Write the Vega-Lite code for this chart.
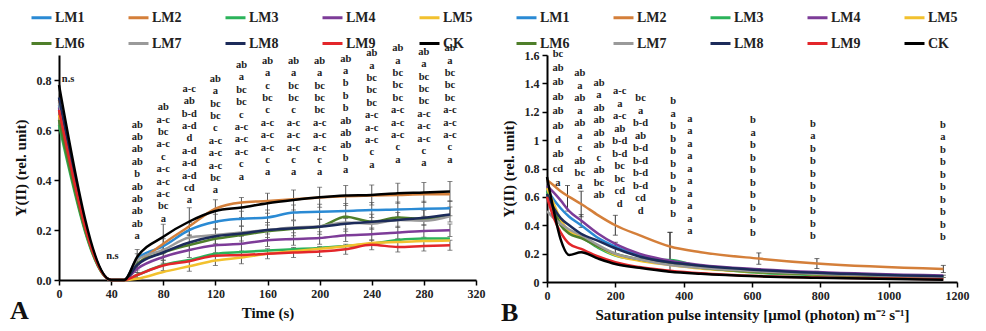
{
  "$schema": "https://vega.github.io/schema/vega-lite/v6.json",
  "padding": {"left": 10, "top": 6, "right": 5, "bottom": 0},
  "background": "white",
  "config": {
    "view": {"stroke": null},
    "font": "Liberation Serif",
    "axis": {"grid": false, "domainColor": "#000", "domainWidth": 2, "tickColor": "#000", "tickWidth": 1.5, "tickSize": 5, "labelFont": "Liberation Serif", "labelFontWeight": "bold", "labelFontSize": 12, "labelColor": "#222", "titleFont": "Liberation Serif", "titleFontWeight": "bold", "titleFontSize": 15, "titleColor": "#111", "labelPadding": 3, "labelOverlap": false, "labelFlush": false},
    "text": {"font": "Liberation Serif", "fontWeight": "bold", "fontSize": 10.5, "color": "#222"},
    "title": {"font": "Liberation Serif", "fontWeight": "bold", "fontSize": 26, "color": "#111"}
  },
  "datasets": {
    "Aw": [
      {"t":0,"LM1":0.70,"LM2":0.72,"LM3":0.62,"LM4":0.69,"LM5":0.66,"LM6":0.64,"LM7":0.71,"LM8":0.73,"LM9":0.68,"CK":0.78},
      {"t":40,"LM1":0,"LM2":0,"LM3":0,"LM4":0,"LM5":0,"LM6":0,"LM7":0,"LM8":0,"LM9":0,"CK":0},
      {"t":50,"LM1":0,"LM2":0,"LM3":0,"LM4":0,"LM5":0,"LM6":0,"LM7":0,"LM8":0,"LM9":0,"CK":0},
      {"t":60,"LM1":0.085,"LM2":0.06,"LM3":0.02,"LM4":0.045,"LM5":0.005,"LM6":0.065,"LM7":0.08,"LM8":0.06,"LM9":0.02,"CK":0.092},
      {"t":80,"LM1":0.135,"LM2":0.145,"LM3":0.06,"LM4":0.092,"LM5":0.032,"LM6":0.11,"LM7":0.12,"LM8":0.11,"LM9":0.058,"CK":0.173},
      {"t":100,"LM1":0.2,"LM2":0.215,"LM3":0.08,"LM4":0.12,"LM5":0.055,"LM6":0.14,"LM7":0.17,"LM8":0.15,"LM9":0.075,"CK":0.234},
      {"t":120,"LM1":0.233,"LM2":0.285,"LM3":0.105,"LM4":0.139,"LM5":0.078,"LM6":0.165,"LM7":0.18,"LM8":0.175,"LM9":0.097,"CK":0.276},
      {"t":140,"LM1":0.245,"LM2":0.31,"LM3":0.112,"LM4":0.145,"LM5":0.09,"LM6":0.18,"LM7":0.19,"LM8":0.186,"LM9":0.1,"CK":0.29},
      {"t":160,"LM1":0.25,"LM2":0.316,"LM3":0.118,"LM4":0.159,"LM5":0.105,"LM6":0.195,"LM7":0.2,"LM8":0.2,"LM9":0.105,"CK":0.307},
      {"t":180,"LM1":0.27,"LM2":0.323,"LM3":0.123,"LM4":0.164,"LM5":0.115,"LM6":0.205,"LM7":0.21,"LM8":0.207,"LM9":0.11,"CK":0.32},
      {"t":200,"LM1":0.273,"LM2":0.33,"LM3":0.128,"LM4":0.168,"LM5":0.125,"LM6":0.213,"LM7":0.215,"LM8":0.213,"LM9":0.114,"CK":0.331},
      {"t":220,"LM1":0.276,"LM2":0.335,"LM3":0.136,"LM4":0.179,"LM5":0.135,"LM6":0.253,"LM7":0.23,"LM8":0.225,"LM9":0.123,"CK":0.338},
      {"t":240,"LM1":0.28,"LM2":0.338,"LM3":0.145,"LM4":0.183,"LM5":0.148,"LM6":0.233,"LM7":0.225,"LM8":0.233,"LM9":0.141,"CK":0.34},
      {"t":260,"LM1":0.282,"LM2":0.34,"LM3":0.16,"LM4":0.19,"LM5":0.152,"LM6":0.25,"LM7":0.24,"LM8":0.24,"LM9":0.132,"CK":0.347},
      {"t":280,"LM1":0.285,"LM2":0.343,"LM3":0.166,"LM4":0.196,"LM5":0.156,"LM6":0.245,"LM7":0.237,"LM8":0.249,"LM9":0.136,"CK":0.35},
      {"t":300,"LM1":0.287,"LM2":0.343,"LM3":0.166,"LM4":0.199,"LM5":0.158,"LM6":0.26,"LM7":0.255,"LM8":0.262,"LM9":0.139,"CK":0.354}
    ],
    "Ae": [
      {"t":60,"y":0.092,"e":0.03},{"t":60,"y":0.085,"e":0.02},{"t":60,"y":0.06,"e":0.02},{"t":60,"y":0.045,"e":0.015},{"t":60,"y":0.02,"e":0.01},
      {"t":80,"y":0.173,"e":0.05},{"t":80,"y":0.135,"e":0.03},{"t":80,"y":0.11,"e":0.03},{"t":80,"y":0.092,"e":0.025},{"t":80,"y":0.058,"e":0.02},
      {"t":100,"y":0.234,"e":0.055},{"t":100,"y":0.2,"e":0.03},{"t":100,"y":0.15,"e":0.03},{"t":100,"y":0.12,"e":0.03},{"t":100,"y":0.055,"e":0.02},
      {"t":120,"y":0.276,"e":0.045},{"t":120,"y":0.233,"e":0.03},{"t":120,"y":0.175,"e":0.03},{"t":120,"y":0.139,"e":0.03},{"t":120,"y":0.078,"e":0.02},
      {"t":140,"y":0.29,"e":0.04},{"t":140,"y":0.245,"e":0.03},{"t":140,"y":0.186,"e":0.03},{"t":140,"y":0.145,"e":0.03},{"t":140,"y":0.09,"e":0.025},
      {"t":160,"y":0.307,"e":0.04},{"t":160,"y":0.25,"e":0.03},{"t":160,"y":0.2,"e":0.03},{"t":160,"y":0.159,"e":0.025},{"t":160,"y":0.105,"e":0.02},
      {"t":180,"y":0.32,"e":0.04},{"t":180,"y":0.27,"e":0.03},{"t":180,"y":0.207,"e":0.03},{"t":180,"y":0.164,"e":0.025},{"t":180,"y":0.11,"e":0.02},
      {"t":200,"y":0.331,"e":0.04},{"t":200,"y":0.273,"e":0.03},{"t":200,"y":0.213,"e":0.03},{"t":200,"y":0.168,"e":0.025},{"t":200,"y":0.114,"e":0.02},
      {"t":220,"y":0.338,"e":0.04},{"t":220,"y":0.276,"e":0.03},{"t":220,"y":0.225,"e":0.03},{"t":220,"y":0.179,"e":0.025},{"t":220,"y":0.123,"e":0.02},
      {"t":240,"y":0.34,"e":0.04},{"t":240,"y":0.28,"e":0.03},{"t":240,"y":0.233,"e":0.03},{"t":240,"y":0.183,"e":0.025},{"t":240,"y":0.141,"e":0.02},
      {"t":260,"y":0.347,"e":0.04},{"t":260,"y":0.282,"e":0.03},{"t":260,"y":0.24,"e":0.03},{"t":260,"y":0.19,"e":0.025},{"t":260,"y":0.132,"e":0.02},
      {"t":280,"y":0.35,"e":0.04},{"t":280,"y":0.285,"e":0.03},{"t":280,"y":0.249,"e":0.03},{"t":280,"y":0.196,"e":0.025},{"t":280,"y":0.136,"e":0.02},
      {"t":300,"y":0.354,"e":0.04},{"t":300,"y":0.287,"e":0.03},{"t":300,"y":0.262,"e":0.03},{"t":300,"y":0.199,"e":0.025},{"t":300,"y":0.139,"e":0.02}
    ],
    "At": [
      {"t":60,"y":0.642,"lab":"ab\nab\nab\nab\nb\nab\nab\nab\nab\na"},
      {"t":80,"y":0.711,"lab":"ab\na-c\nbc\na-c\nc\na-c\na-c\na-c\nbc\na"},
      {"t":100,"y":0.785,"lab":"a-c\nab\nb-d\na-d\nd\na-d\na-d\na-d\ncd\na"},
      {"t":120,"y":0.825,"lab":"ab\na\nbc\nbc\nc\na-c\na-c\na-c\nbc\na"},
      {"t":140,"y":0.88,"lab":"ab\na\nbc\nbc\nc\na-c\na-c\na-c\nc\na"},
      {"t":160,"y":0.897,"lab":"ab\na\nc\nbc\nc\na-c\na-c\na-c\nc\na"},
      {"t":180,"y":0.897,"lab":"ab\na\nbc\nbc\nc\na-c\na-c\na-c\nc\na"},
      {"t":200,"y":0.897,"lab":"ab\na\nbc\nbc\nbc\na-c\na-c\na-c\nc\na"},
      {"t":220,"y":0.906,"lab":"ab\na\nb\nb\nb\nab\nab\nab\nb\na"},
      {"t":240,"y":0.927,"lab":"ab\na\nbc\nbc\nbc\na-c\na-c\na-c\nc\na"},
      {"t":260,"y":0.947,"lab":"ab\na\nbc\nbc\nbc\na-c\na-c\na-c\nc\na"},
      {"t":280,"y":0.933,"lab":"ab\na\nbc\nbc\nbc\na-c\na-c\na-c\nc\na"},
      {"t":300,"y":0.947,"lab":"ab\na\nbc\nbc\nbc\na-c\na-c\na-c\nc\na"},
      {"t":7,"y":0.825,"lab":"n.s"},
      {"t":41,"y":0.118,"lab":"n.s"}
    ],
    "Bw": [
      {"x":0,"LM1":0.65,"LM2":0.72,"LM3":0.64,"LM4":0.68,"LM5":0.66,"LM6":0.62,"LM7":0.5,"LM8":0.62,"LM9":0.6,"CK":0.74},
      {"x":20,"LM1":0.58,"LM2":0.68,"LM3":0.52,"LM4":0.63,"LM5":0.55,"LM6":0.5,"LM7":0.45,"LM8":0.52,"LM9":0.45,"CK":0.5},
      {"x":40,"LM1":0.52,"LM2":0.64,"LM3":0.42,"LM4":0.575,"LM5":0.44,"LM6":0.4,"LM7":0.41,"LM8":0.45,"LM9":0.35,"CK":0.3},
      {"x":65,"LM1":0.46,"LM2":0.6,"LM3":0.35,"LM4":0.5,"LM5":0.36,"LM6":0.34,"LM7":0.37,"LM8":0.4,"LM9":0.27,"CK":0.19},
      {"x":100,"LM1":0.4,"LM2":0.55,"LM3":0.316,"LM4":0.433,"LM5":0.32,"LM6":0.31,"LM7":0.33,"LM8":0.34,"LM9":0.233,"CK":0.21},
      {"x":150,"LM1":0.31,"LM2":0.47,"LM3":0.24,"LM4":0.34,"LM5":0.25,"LM6":0.25,"LM7":0.26,"LM8":0.29,"LM9":0.18,"CK":0.165},
      {"x":200,"LM1":0.25,"LM2":0.4,"LM3":0.186,"LM4":0.268,"LM5":0.19,"LM6":0.2,"LM7":0.2,"LM8":0.238,"LM9":0.139,"CK":0.127},
      {"x":270,"LM1":0.19,"LM2":0.33,"LM3":0.16,"LM4":0.2,"LM5":0.15,"LM6":0.16,"LM7":0.16,"LM8":0.18,"LM9":0.105,"CK":0.1},
      {"x":360,"LM1":0.14,"LM2":0.25,"LM3":0.155,"LM4":0.15,"LM5":0.12,"LM6":0.13,"LM7":0.12,"LM8":0.139,"LM9":0.08,"CK":0.073},
      {"x":450,"LM1":0.11,"LM2":0.21,"LM3":0.11,"LM4":0.12,"LM5":0.095,"LM6":0.1,"LM7":0.1,"LM8":0.115,"LM9":0.062,"CK":0.058},
      {"x":620,"LM1":0.08,"LM2":0.165,"LM3":0.065,"LM4":0.09,"LM5":0.07,"LM6":0.07,"LM7":0.075,"LM8":0.085,"LM9":0.042,"CK":0.04},
      {"x":790,"LM1":0.06,"LM2":0.13,"LM3":0.05,"LM4":0.07,"LM5":0.055,"LM6":0.055,"LM7":0.058,"LM8":0.065,"LM9":0.032,"CK":0.03},
      {"x":1160,"LM1":0.035,"LM2":0.092,"LM3":0.03,"LM4":0.045,"LM5":0.035,"LM6":0.035,"LM7":0.035,"LM8":0.04,"LM9":0.02,"CK":0.015}
    ],
    "Be": [
      {"x":60,"y":0.59,"e":0.09},{"x":100,"y":0.55,"e":0.09},{"x":200,"y":0.4,"e":0.07},{"x":360,"y":0.25,"e":0.1},
      {"x":620,"y":0.165,"e":0.04},{"x":790,"y":0.13,"e":0.035},{"x":1160,"y":0.092,"e":0.025},
      {"x":100,"y":0.43,"e":0.045},{"x":200,"y":0.24,"e":0.04},{"x":360,"y":0.21,"e":0.14},
      {"x":620,"y":0.085,"e":0.01},{"x":790,"y":0.065,"e":0.01},{"x":1160,"y":0.04,"e":0.008}
    ],
    "Bt1": [
      {"x":32,"y":1.645,"lab":"bc\nab\nab\nab\nab\nab\nd\nab\ncd\na"}
    ],
    "Bt": [
      {"x":96,"y":1.505,"lab":"ab\na\nab\na\nab\na\nc\nab\nbc\na"},
      {"x":152,"y":1.44,"lab":"ab\na\nab\nab\nab\nab\nc\nab\nbc\nab"},
      {"x":213,"y":1.38,"lab":"a-c\na\na-c\nab\nb-d\nb-d\nbc\nbc\ncd\nd"},
      {"x":274,"y":1.329,"lab":"bc\na\nb-d\nab\nb-d\nb-d\nb-d\nb-d\ncd\nd"},
      {"x":369,"y":1.31,"lab":"b\na\nb\nb\nb\nb\nb\nb\nb\nb"},
      {"x":418,"y":1.187,"lab":"a\na\na\na\na\na\na\na\na\na"},
      {"x":603,"y":1.175,"lab":"b\na\nb\nb\nb\nb\nb\nb\nb\nb"},
      {"x":778,"y":1.152,"lab":"b\na\nb\nb\nb\nb\nb\nb\nb\nb"},
      {"x":1159,"y":1.145,"lab":"b\na\nb\nb\nb\nb\nb\nb\nb\nb"}
    ]
  },
  "bounds": "flush",
  "spacing": 71,
  "resolve": {"scale": {"color": "independent"}},
  "hconcat": [
    {
      "width": 417,
      "height": 225,
      "title": {"text": "A", "orient": "bottom", "anchor": "start", "frame": "group", "dx": -49, "offset": -22},
      "layer": [
        {
          "data": {"name": "Ae"},
          "mark": {"type": "errorbar", "color": "#555", "thickness": 1, "ticks": {"size": 5}},
          "encoding": {
            "x": {"field": "t", "type": "quantitative", "title": "Time (s)", "axis": {"values": [0,40,80,120,160,200,240,280,320], "titlePadding": 6, "labelOverlap": false}},
            "y": {"field": "y", "type": "quantitative", "title": "Y(II) (rel. unit)", "axis": {"values": [0,0.2,0.4,0.6,0.8], "format": ".1f", "titlePadding": 8, "labelOverlap": false}},
            "yError": {"field": "e"}
          }
        },
        {
          "data": {"name": "Aw"},
          "transform": [{"fold": ["LM1","LM2","LM3","LM4","LM5","LM6","LM7","LM8","LM9","CK"], "as": ["s","y"]}],
          "mark": {"type": "line", "interpolate": "monotone", "strokeWidth": 2.5},
          "encoding": {
            "x": {"field": "t", "type": "quantitative", "title": "Time (s)", "scale": {"domain": [0, 320], "nice": false}, "axis": {"values": [0,40,80,120,160,200,240,280,320], "titlePadding": 6, "labelOverlap": false}},
            "y": {"field": "y", "type": "quantitative", "title": "Y(II) (rel. unit)", "scale": {"domain": [0, 0.9], "nice": false}, "axis": {"values": [0,0.2,0.4,0.6,0.8], "format": ".1f", "titlePadding": 8, "labelOverlap": false}},
            "color": {
              "field": "s", "type": "nominal",
              "scale": {"domain": ["LM1","LM2","LM3","LM4","LM5","LM6","LM7","LM8","LM9","CK"], "range": ["#2a8ad4","#d47f3a","#2bb35a","#7d3c98","#f2c12e","#4f7f2a","#9a9a9a","#1c2b5a","#e3262a","#000000"]},
              "legend": {"orient": "none", "legendX": -29, "legendY": -49, "direction": "horizontal", "columns": 5, "title": null, "symbolType": "stroke", "symbolSize": 400, "symbolStrokeWidth": 3, "labelFont": "Liberation Serif", "labelFontWeight": "bold", "labelFontSize": 14, "labelColor": "#222", "columnPadding": 37, "rowPadding": 7, "labelOffset": 2}
            }
          }
        },
        {
          "data": {"name": "At"},
          "mark": {"type": "text", "lineBreak": "\n", "baseline": "top", "align": "center", "lineHeight": 12.4},
          "encoding": {
            "x": {"field": "t", "type": "quantitative", "title": "Time (s)", "axis": {"values": [0,40,80,120,160,200,240,280,320], "titlePadding": 6, "labelOverlap": false}},
            "y": {"field": "y", "type": "quantitative", "title": "Y(II) (rel. unit)", "axis": {"values": [0,0.2,0.4,0.6,0.8], "format": ".1f", "titlePadding": 8, "labelOverlap": false}},
            "text": {"field": "lab"}
          }
        }
      ]
    },
    {
      "width": 410,
      "height": 227,
      "title": {"text": "B", "orient": "bottom", "anchor": "start", "frame": "group", "dx": -46, "offset": -22},
      "layer": [
        {
          "data": {"name": "Be"},
          "mark": {"type": "errorbar", "color": "#333", "thickness": 1, "ticks": {"size": 5}},
          "encoding": {
            "x": {"field": "x", "type": "quantitative", "title": "Saturation pulse intensity [μmol (photon) m⁻² s⁻¹]", "axis": {"values": [0,200,400,600,800,1000,1200], "format": "d", "titlePadding": 6, "labelOverlap": false}},
            "y": {"field": "y", "type": "quantitative", "title": "Y(II) (rel. unit)", "axis": {"values": [0,0.2,0.4,0.6,0.8,1,1.2,1.4,1.6], "format": "~g", "titlePadding": 8, "labelOverlap": false}},
            "yError": {"field": "e"}
          }
        },
        {
          "data": {"name": "Bw"},
          "transform": [{"fold": ["LM1","LM2","LM3","LM4","LM5","LM6","LM7","LM8","LM9","CK"], "as": ["s","y"]}],
          "mark": {"type": "line", "interpolate": "monotone", "strokeWidth": 2.5},
          "encoding": {
            "x": {"field": "x", "type": "quantitative", "title": "Saturation pulse intensity [μmol (photon) m⁻² s⁻¹]", "scale": {"domain": [0, 1200], "nice": false}, "axis": {"values": [0,200,400,600,800,1000,1200], "format": "d", "titlePadding": 6, "labelOverlap": false}},
            "y": {"field": "y", "type": "quantitative", "title": "Y(II) (rel. unit)", "scale": {"domain": [0, 1.6], "nice": false}, "axis": {"values": [0,0.2,0.4,0.6,0.8,1,1.2,1.4,1.6], "format": "~g", "titlePadding": 8, "labelOverlap": false}},
            "color": {
              "field": "s", "type": "nominal",
              "scale": {"domain": ["LM1","LM2","LM3","LM4","LM5","LM6","LM7","LM8","LM9","CK"], "range": ["#2a8ad4","#d47f3a","#2bb35a","#7d3c98","#f2c12e","#4f7f2a","#9a9a9a","#1c2b5a","#e3262a","#000000"]},
              "legend": {"orient": "none", "legendX": -32, "legendY": -49, "direction": "horizontal", "columns": 5, "title": null, "symbolType": "stroke", "symbolSize": 400, "symbolStrokeWidth": 3, "labelFont": "Liberation Serif", "labelFontWeight": "bold", "labelFontSize": 14, "labelColor": "#222", "columnPadding": 37, "rowPadding": 7, "labelOffset": 2}
            }
          }
        },
        {
          "data": {"name": "Bt1"},
          "mark": {"type": "text", "lineBreak": "\n", "baseline": "top", "align": "center", "lineHeight": 14.4},
          "encoding": {
            "x": {"field": "x", "type": "quantitative", "title": "Saturation pulse intensity [μmol (photon) m⁻² s⁻¹]", "axis": {"values": [0,200,400,600,800,1000,1200], "format": "d", "titlePadding": 6, "labelOverlap": false}},
            "y": {"field": "y", "type": "quantitative", "title": "Y(II) (rel. unit)", "axis": {"values": [0,0.2,0.4,0.6,0.8,1,1.2,1.4,1.6], "format": "~g", "titlePadding": 8, "labelOverlap": false}},
            "text": {"field": "lab"}
          }
        },
        {
          "data": {"name": "Bt"},
          "mark": {"type": "text", "lineBreak": "\n", "baseline": "top", "align": "center", "lineHeight": 12.5},
          "encoding": {
            "x": {"field": "x", "type": "quantitative", "title": "Saturation pulse intensity [μmol (photon) m⁻² s⁻¹]", "axis": {"values": [0,200,400,600,800,1000,1200], "format": "d", "titlePadding": 6, "labelOverlap": false}},
            "y": {"field": "y", "type": "quantitative", "title": "Y(II) (rel. unit)", "axis": {"values": [0,0.2,0.4,0.6,0.8,1,1.2,1.4,1.6], "format": "~g", "titlePadding": 8, "labelOverlap": false}},
            "text": {"field": "lab"}
          }
        }
      ]
    }
  ]
}
